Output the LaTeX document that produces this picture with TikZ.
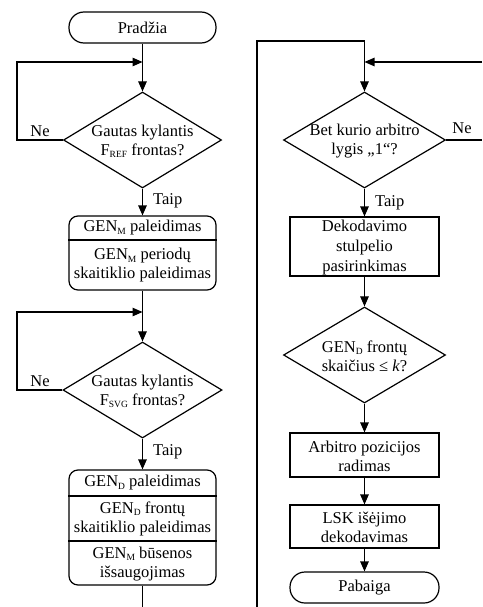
\documentclass[tikz,border=0pt]{standalone}
\usepackage{fontspec}
\setmainfont{Liberation Serif}
\usetikzlibrary{arrows.meta,shapes.geometric}
\newcommand{\lowsub}[1]{\raisebox{-0.3ex}{\fontsize{9.5}{9.5}\selectfont #1}}
\begin{document}
\begin{tikzpicture}[x=1pt,y=-1pt,
  every node/.style={font=\fontsize{16.5}{19}\selectfont},
  ln/.style={line width=1.2pt, line cap=butt},
  arr/.style={ln,-{Triangle[length=10pt,width=8.5pt]}},
  term/.style={draw,ln,rounded corners=15pt,minimum width=147pt,minimum height=31pt,inner sep=0pt},
  rbox/.style={draw,ln,rounded corners=9pt,minimum width=147pt,inner sep=0pt},
  pbox/.style={draw,ln,minimum width=149pt,inner sep=0pt},
  dec/.style={draw,ln,diamond,inner sep=0pt,minimum height=96pt},
  txt/.style={align=center,inner sep=0pt},
  lbl/.style={inner sep=0pt}]
\useasboundingbox (0,0) rectangle (482,607);
% ---------------- left column
\node[term] (start) at (142.5,27.5) {Pradžia};
\coordinate (j1) at (142.5,62);
\node[dec,minimum width=158pt] (d1) at (142.5,140) {};
\node[txt] (d1t) at (142.5,141) {Gautas kylantis\\F\lowsub{REF} frontas?};
\node[rbox,minimum height=74pt] (b1) at (142.5,253) {};
\node[txt] (b1a) at (142.5,228) {GEN\lowsub{M} paleidimas};
\node[txt] (b1b) at (142.5,265.5) {GEN\lowsub{M} periodų\\skaitiklio paleidimas};
\coordinate (j2) at (142.5,312);
\node[dec,minimum width=159pt] (d2) at (142.5,390) {};
\node[txt] (d2t) at (142.5,391) {Gautas kylantis\\F\lowsub{SVG} frontas?};
\node[rbox,minimum height=115pt] (b2) at (142.5,527.5) {};
\node[txt] (b2a) at (142.5,483) {GEN\lowsub{D} paleidimas};
\node[txt] (b2b) at (142.5,519) {GEN\lowsub{D} frontų\\skaitiklio paleidimas};
\node[txt] (b2c) at (142.5,564) {GEN\lowsub{M} būsenos\\išsaugojimas};
\coordinate (lend) at (142.5,607);
\coordinate (lx1) at (17,62);
\coordinate (lx2) at (17,312);
\node[lbl] (ne1) at (40,131) {Ne};
\node[lbl] (ne2) at (40,381) {Ne};
\node[lbl,anchor=west] (ta1) at (153,201) {Taip};
\node[lbl,anchor=west] (ta2) at (153,452) {Taip};
\draw[ln] (b1.west |- 0,240) -- (b1.east |- 0,240);
\draw[ln] (b2.west |- 0,496) -- (b2.east |- 0,496);
\draw[ln] (b2.west |- 0,541) -- (b2.east |- 0,541);
\draw[arr] (start) -- (d1);
\draw[arr] (d1.west) -- (lx1 |- d1.west) -- (lx1) -- (j1);
\draw[arr] (d1) -- (b1);
\draw[arr] (b1) -- (d2);
\draw[arr] (d2.west) -- (lx2 |- d2.west) -- (lx2) -- (j2);
\draw[arr] (d2) -- (b2);
\draw[ln] (b2) -- (lend);
% ---------------- right column
\coordinate (rb) at (257,607);
\coordinate (rt) at (257,41);
\coordinate (rtop) at (364.5,41);
\coordinate (j3) at (364.5,62);
\coordinate (redge) at (482,62);
\node[dec,minimum width=162pt] (d3) at (364.5,140) {};
\node[txt] (d3t) at (364.5,141) {Bet kurio arbitro\\lygis „1“?};
\coordinate (redge2) at (482,140);
\node[lbl] (ne3) at (462,128) {Ne};
\node[lbl,anchor=west] (ta3) at (375,203) {Taip};
\node[pbox,minimum height=59pt] (b3) at (364.5,246.5) {};
\node[txt,font=\fontsize{16.5}{20}\selectfont] (b3t) at (364.5,247.5) {Dekodavimo\\stulpelio\\pasirinkimas};
\node[dec,minimum width=162pt] (d4) at (364.5,355) {};
\node[txt] (d4t) at (364.5,356) {GEN\lowsub{D} frontų\\skaičius ≤ \textit{k}?};
\node[pbox,minimum height=44pt] (b4) at (364.5,455) {};
\node[txt] (b4t) at (364.5,456) {Arbitro pozicijos\\radimas};
\node[pbox,minimum height=43pt] (b5) at (364.5,526.5) {};
\node[txt] (b5t) at (364.5,527.5) {LSK išėjimo\\dekodavimas};
\node[term,minimum width=149pt] (end) at (364.5,587.5) {Pabaiga};
\draw[ln] (rb) -- (rt) -- (rtop) -- (j3);
\draw[arr] (rtop) -- (d3);
\draw[arr] (redge) -- (j3);
\draw[ln] (d3.east) -- (redge2);
\draw[arr] (d3) -- (b3);
\draw[arr] (b3) -- (d4);
\draw[arr] (d4) -- (b4);
\draw[arr] (b4) -- (b5);
\draw[arr] (b5) -- (end);
\end{tikzpicture}
\end{document}
